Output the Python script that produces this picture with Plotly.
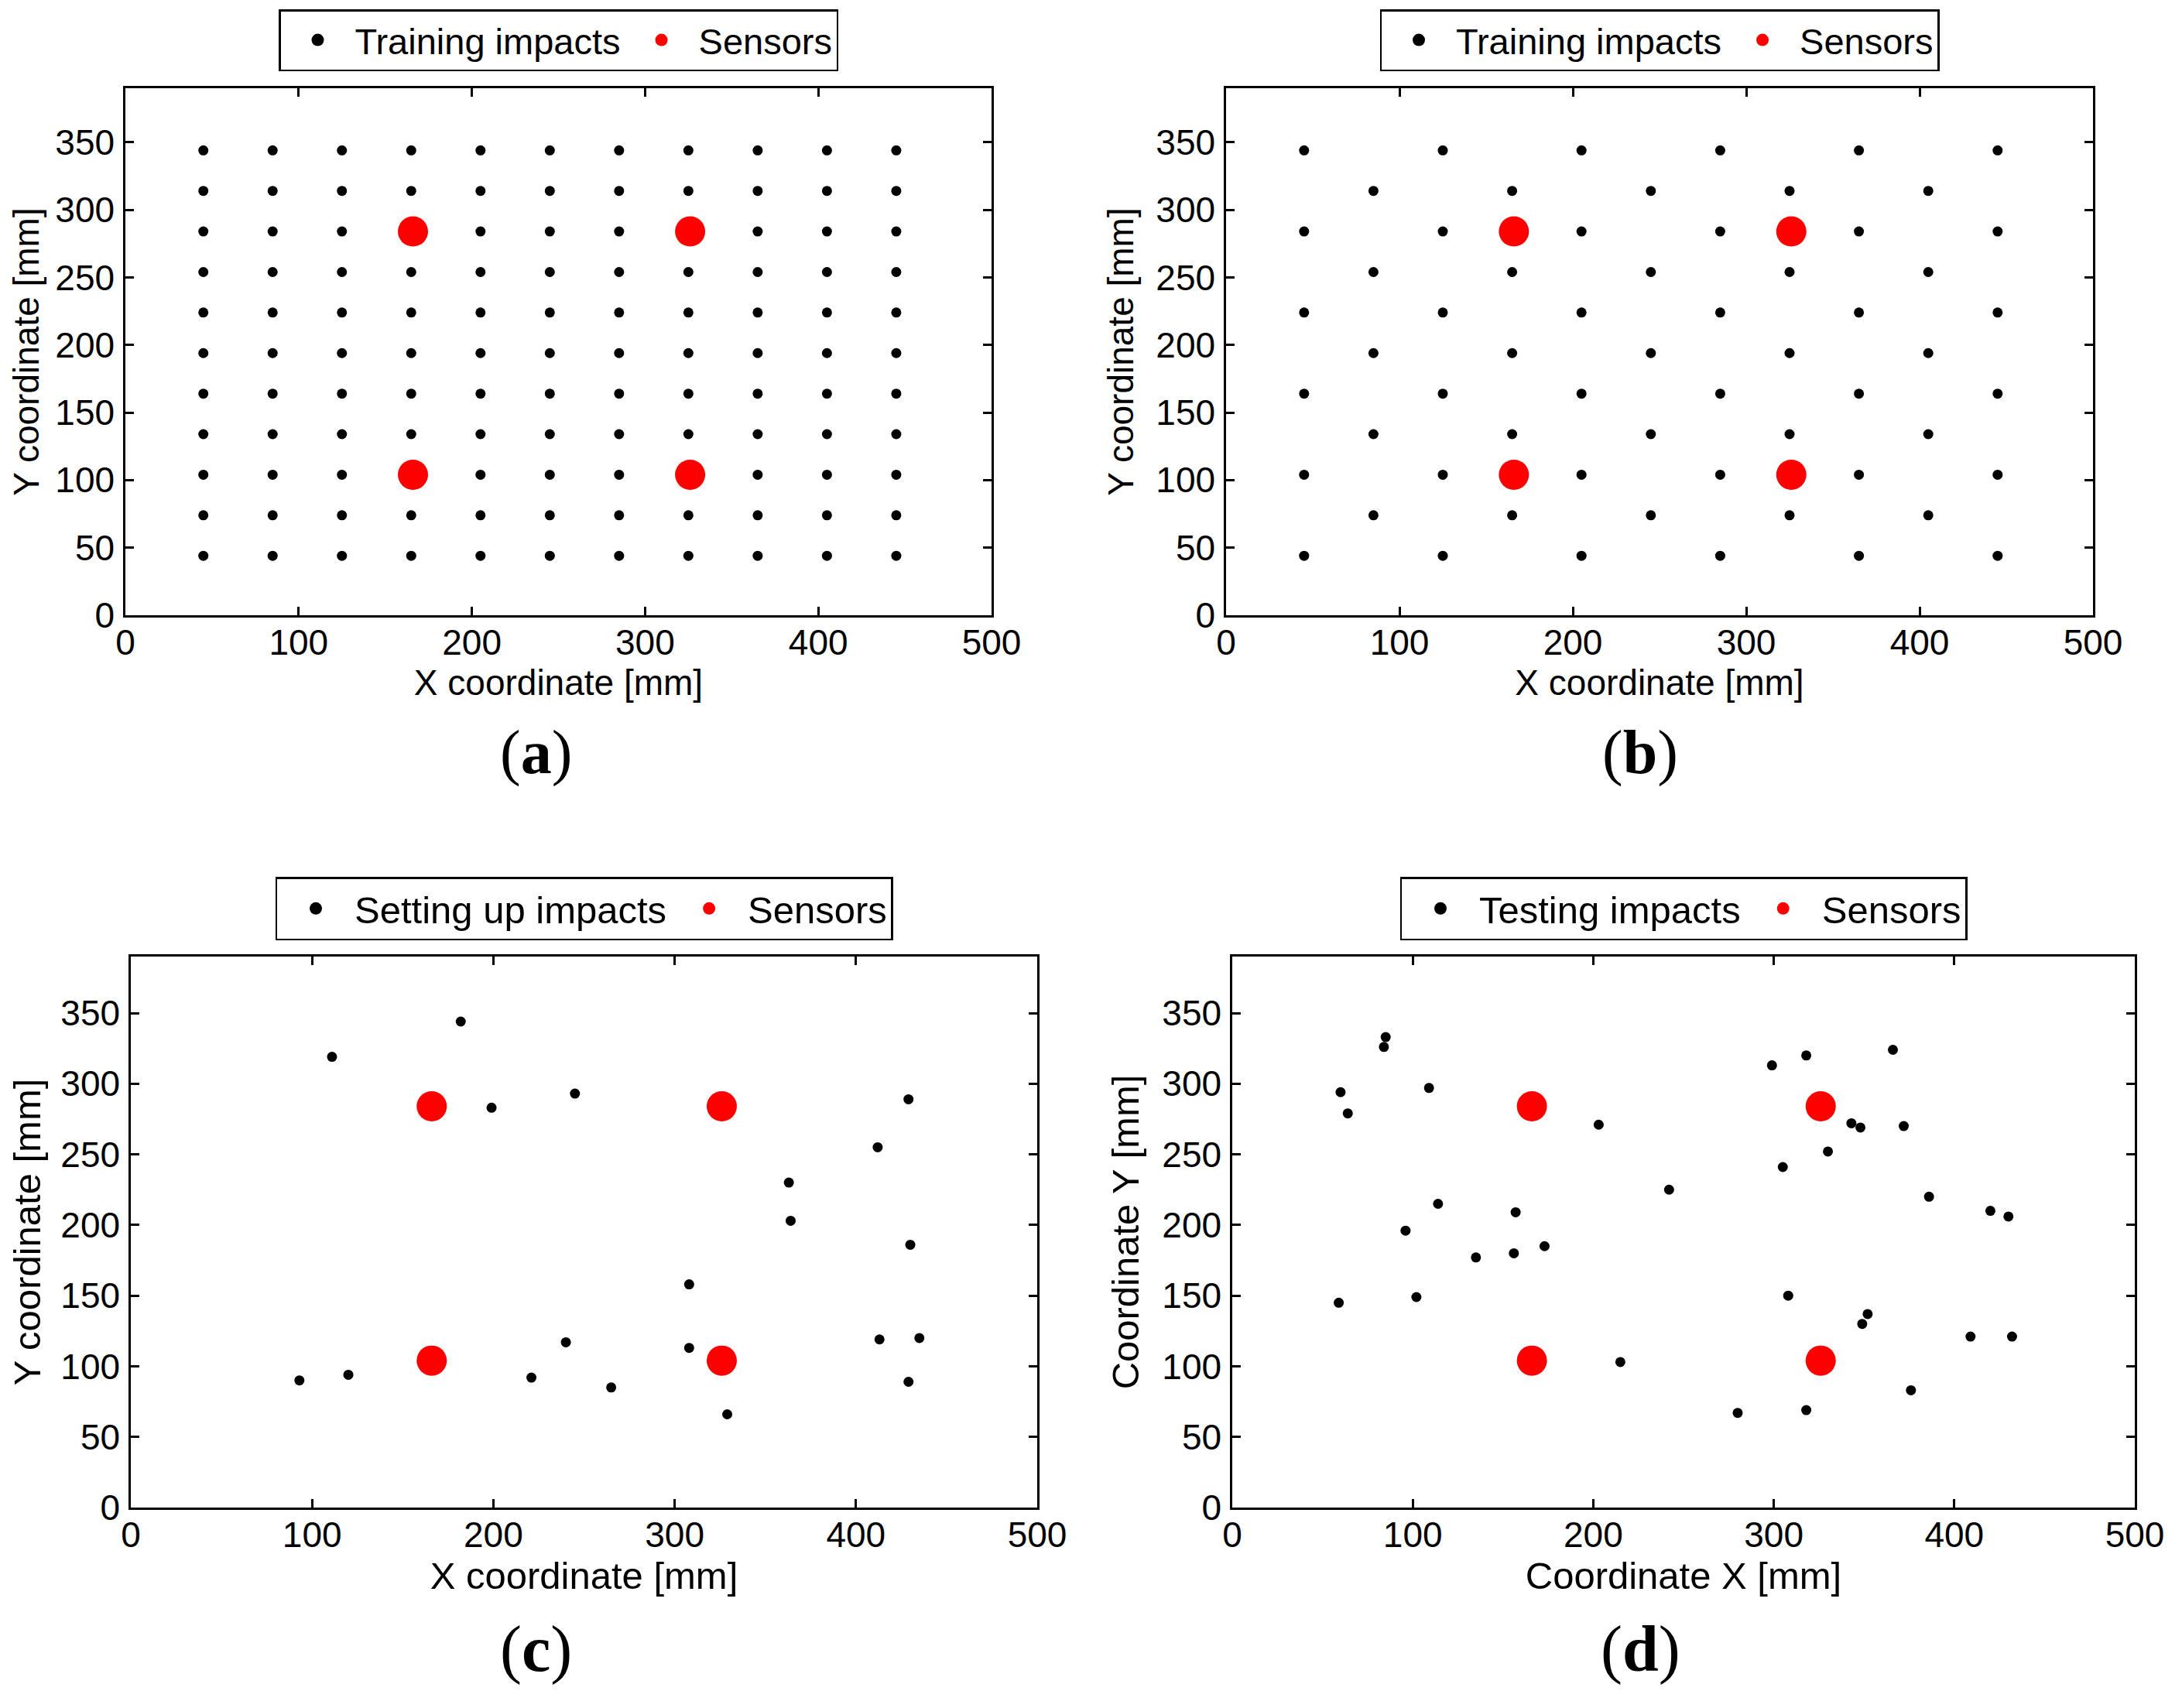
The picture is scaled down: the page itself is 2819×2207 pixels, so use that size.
import plotly.graph_objects as go

# impact grid used for training [mm]
grid_x = [45, 85, 125, 165, 205, 245, 285, 325, 365, 405, 445]
grid_y = [44, 74, 104, 134, 164, 194, 224, 254, 284, 314, 344]

# (b) reduced grid: alternating columns on alternating rows
b_rows_even = [44, 104, 164, 224, 284, 344]
b_cols_even = [45, 125, 205, 285, 365, 445]
b_rows_odd = [74, 134, 194, 254, 314]
b_cols_odd = [85, 165, 245, 325, 405]

# (c) setting up impacts
setup_x = [111, 182, 199, 245, 429, 412, 363, 364, 430, 308,
           240, 308, 413, 435, 93, 120, 221, 265, 429, 329]
setup_y = [319, 344, 283, 293, 289, 255, 230, 203, 186, 158,
           117, 113, 119, 120, 90, 94, 92, 85, 89, 66]

# (d) testing impacts
test_x = [60, 64, 84, 85, 109, 203, 242, 96, 114, 157, 135, 156, 173, 59,
          102, 215, 299, 318, 366, 343, 348, 372, 330, 305, 386, 420, 430,
          308, 352, 349, 409, 432, 376, 280, 318]
test_y = [294, 279, 326, 333, 297, 271, 225, 196, 215, 209, 177, 180, 185, 145,
          149, 103, 313, 320, 324, 272, 269, 270, 252, 241, 220, 210, 206,
          150, 137, 130, 121, 121, 83, 67, 69]

# sensor positions
sensor_x = [166, 326, 166, 326]
sensor_y = [284, 284, 104, 104]

x_ticks = [0, 100, 200, 300, 400, 500]
y_ticks = [0, 50, 100, 150, 200, 250, 300, 350]

# build the point tables for (a) and (b)
train_a_x = [gx for gy in grid_y for gx in grid_x]
train_a_y = [gy for gy in grid_y for gx in grid_x]
train_b_x, train_b_y = [], []
for gy in grid_y:
    cols = b_cols_even if gy in b_rows_even else b_cols_odd
    for gx in cols:
        train_b_x.append(gx)
        train_b_y.append(gy)

FONT = "Liberation Sans"
W, H = 2819, 2207
OFF = 8  # page margin of the html body


def fx(p):
    return (p - OFF) / W


def fy(p):
    return 1 - (p - OFF) / H


# top row panels use slightly smaller text than the bottom row
top = dict(lf=47, iw=86, tf=46, gf=80, gap=22)
bot = dict(lf=49, iw=90, tf=49, gf=84, gap=21)

panels = [
    dict(top, px=train_a_x, py=train_a_y, name="Training impacts",
         xt="X coordinate [mm]", yt="Y coordinate [mm]", tag="(<b>a</b>)",
         dx=[fx(162), fx(1281)], dy=[fy(795), fy(114)], tx=fx(692), ty=fy(972)),
    dict(top, px=train_b_x, py=train_b_y, name="Training impacts",
         xt="X coordinate [mm]", yt="Y coordinate [mm]", tag="(<b>b</b>)",
         dx=[fx(1584), fx(2704)], dy=[fy(795), fy(114)], tx=fx(2119), ty=fy(972)),
    dict(bot, px=setup_x, py=setup_y, name="Setting up impacts",
         xt="X coordinate [mm]", yt="Y coordinate [mm]", tag="(<b>c</b>)",
         dx=[fx(169), fx(1340)], dy=[fy(1948), fy(1236)], tx=fx(692), ty=fy(2131)),
    dict(bot, px=test_x, py=test_y, name="Testing impacts",
         xt="Coordinate X [mm]", yt="Coordinate Y [mm]", tag="(<b>d</b>)",
         dx=[fx(1592), fx(2758)], dy=[fy(1948), fy(1236)], tx=fx(2119), ty=fy(2131)),
]

fig = go.Figure()
layout = dict(width=W, height=H,
              margin=dict(l=0, r=0, t=0, b=0, autoexpand=False),
              paper_bgcolor="white", plot_bgcolor="white",
              font=dict(family=FONT, size=46, color="black"),
              annotations=[])

for i, p in enumerate(panels):
    n = "" if i == 0 else str(i + 1)
    xa, ya, lg = "x" + n, "y" + n, "legend" + n

    fig.add_trace(go.Scatter(x=p["px"], y=p["py"], mode="markers", xaxis=xa, yaxis=ya,
                             marker=dict(color="black", size=13), showlegend=False))
    fig.add_trace(go.Scatter(x=sensor_x, y=sensor_y, mode="markers", xaxis=xa, yaxis=ya,
                             marker=dict(color="#ff0000", size=39), showlegend=False))
    # legend entries
    fig.add_trace(go.Scatter(x=[None], y=[None], mode="markers", xaxis=xa, yaxis=ya,
                             name=p["name"], legend=lg,
                             marker=dict(color="black", size=16)))
    fig.add_trace(go.Scatter(x=[None], y=[None], mode="markers", xaxis=xa, yaxis=ya,
                             name="Sensors", legend=lg,
                             marker=dict(color="#ff0000", size=16)))

    axis_common = dict(showline=True, linecolor="black", linewidth=2.5, mirror="ticks",
                       ticks="inside", ticklen=11, tickwidth=2.5, tickcolor="black",
                       showgrid=False, zeroline=False,
                       tickfont=dict(family=FONT, size=46, color="black"))
    layout["xaxis" + n] = dict(axis_common, domain=p["dx"], anchor=ya, range=[0, 500],
                               tickvals=x_ticks, ticklabelstandoff=-7,
                               title=dict(text=p["xt"], standoff=0,
                                          font=dict(family=FONT, size=p["tf"])))
    layout["yaxis" + n] = dict(axis_common, domain=p["dy"], anchor=xa, range=[0, 390],
                               tickvals=y_ticks, ticklabelstandoff=2,
                               title=dict(text=p["yt"], standoff=15,
                                          font=dict(family=FONT, size=p["tf"])))
    layout[lg] = dict(orientation="h", x=sum(p["dx"]) / 2, xanchor="center",
                      y=p["dy"][1] + p["gap"] / H, yanchor="bottom",
                      bordercolor="black", borderwidth=2.5, bgcolor="white",
                      itemwidth=p["iw"], font=dict(family=FONT, size=p["lf"], color="black"))
    layout["annotations"].append(dict(text=p["tag"], x=p["tx"], y=p["ty"],
                                      xref="paper", yref="paper", showarrow=False,
                                      xanchor="center", yanchor="middle",
                                      font=dict(family="Liberation Serif", size=p["gf"],
                                                color="black")))

fig.update_layout(**layout)
fig.write_html("out.html")
